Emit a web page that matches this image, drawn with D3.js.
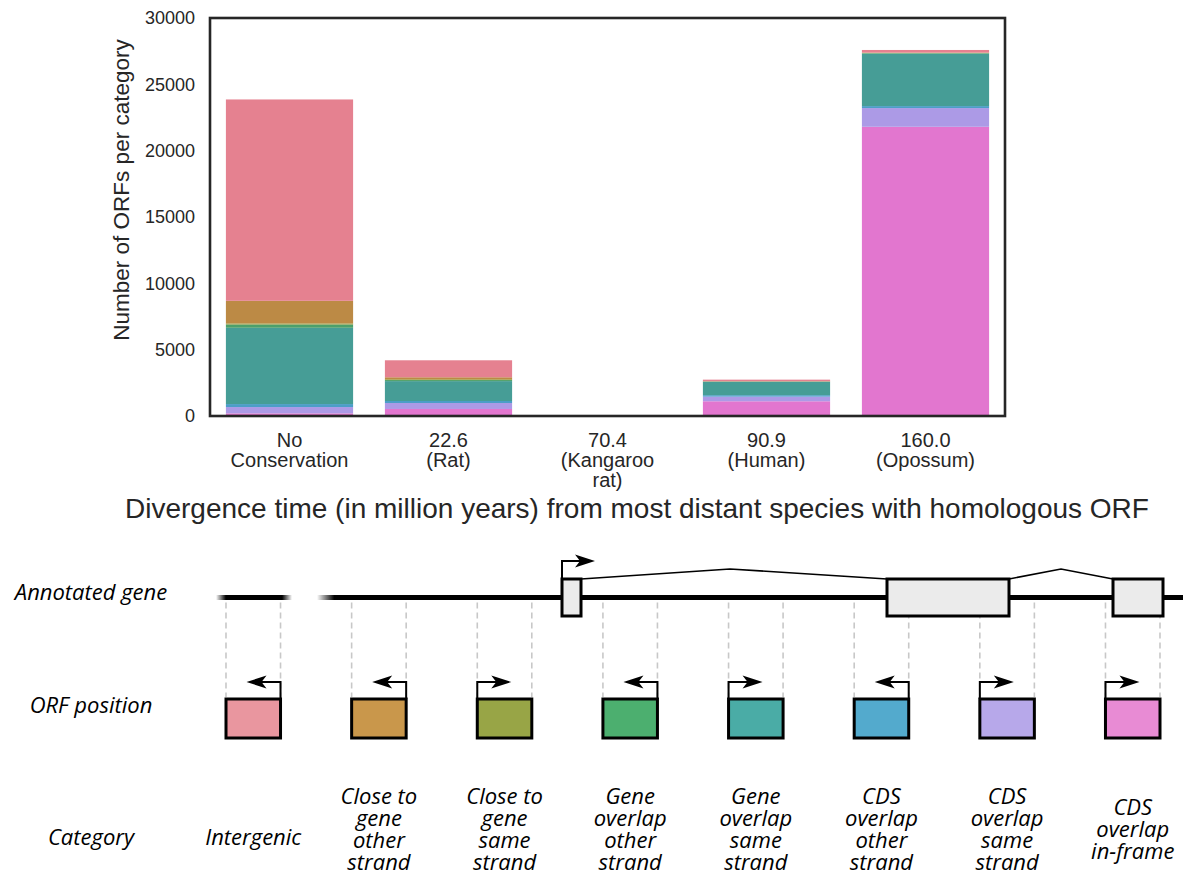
<!DOCTYPE html>
<html>
<head>
<meta charset="utf-8">
<script src="https://cdn.jsdelivr.net/npm/d3@7"></script>
<style>
  body { margin: 0; background: #fff; }
  svg text { font-family: "Liberation Sans", Arial, sans-serif; }
  .diag text { font-family: "Open Sans", sans-serif; font-style: italic; }
</style>
</head>
<body>
<div id="viz"></div>
<script>
// données du graphique -------------------------
const divergence = [["No", "Conservation"], ["22.6", "(Rat)"], ["70.4", "(Kangaroo", "rat)"], ["90.9", "(Human)"], ["160.0", "(Opossum)"]];
const categories = ["Intergenic", "Close to gene other strand", "Close to gene same strand", "Gene overlap other strand",
                    "Gene overlap same strand", "CDS overlap other strand", "CDS overlap same strand", "CDS overlap in-frame"];
const categoryLines = [["Intergenic"], ["Close to", "gene", "other", "strand"], ["Close to", "gene", "same", "strand"],
                       ["Gene", "overlap", "other", "strand"], ["Gene", "overlap", "same", "strand"],
                       ["CDS", "overlap", "other", "strand"], ["CDS", "overlap", "same", "strand"], ["CDS", "overlap", "in-frame"]];
const intergenic = [15180, 1280, 0, 120, 200];
const closeOther = [1700, 150, 0, 10, 20];
const closeSame  = [80, 60, 0, 10, 20];
const geneOther  = [250, 80, 0, 30, 40];
const geneSame   = [5750, 1500, 0, 1000, 3950];
const cdsOther   = [225, 150, 0, 110, 150];
const cdsSame    = [475, 450, 0, 350, 1410];
const inFrame    = [200, 530, 0, 1110, 21800];
const strands    = [-1, -1, 1, -1, 1, -1, 1, 1]; // sens de l'ORF (fleche)
const yTicks = [0, 5000, 10000, 15000, 20000, 25000, 30000];

// couleurs
const barColors  = ["#e58190", "#bc8a45", "#9c9d3f", "#4ca06a", "#469d96", "#4c9ec8", "#ac9ae6", "#e276cf"];
const boxColors  = ["#e9969f", "#c9974b", "#98a546", "#4caf6f", "#4aaca6", "#53aacd", "#b7a8ea", "#e88bd4"];

const W = 1183, H = 873;
const svg = d3.select("#viz").append("svg").attr("width", W).attr("height", H);

// ---------------- barplot empilé ----------------
const plot = {left: 210, right: 1005, top: 18, bottom: 416};
const series = [intergenic, closeOther, closeSame, geneOther, geneSame, cdsOther, cdsSame, inFrame];
const rows = divergence.map((d, i) => {
  const r = {idx: i};
  categories.forEach((c, k) => r[c] = series[k][i]);
  return r;
});
const stack = d3.stack().keys(categories.slice().reverse())(rows);

const x = d3.scaleBand().domain(d3.range(divergence.length))
  .range([plot.left, plot.right]).paddingInner(0.2).paddingOuter(0.1);
const y = d3.scaleLinear().domain([0, 30000]).range([plot.bottom, plot.top]);
const color = d3.scaleOrdinal().domain(categories).range(barColors);

svg.append("g").selectAll("g").data(stack).join("g")
  .attr("fill", d => color(d.key))
  .selectAll("rect").data(d => d).join("rect")
    .attr("x", d => x(d.data.idx))
    .attr("width", x.bandwidth())
    .attr("y", d => y(d[1]))
    .attr("height", d => y(d[0]) - y(d[1]));

// cadre
svg.append("rect")
  .attr("x", plot.left).attr("y", plot.top)
  .attr("width", plot.right - plot.left).attr("height", plot.bottom - plot.top)
  .attr("fill", "none").attr("stroke", "#262626").attr("stroke-width", 2.6);

// axe Y
const yAxis = svg.append("g")
  .attr("transform", `translate(${plot.left},0)`)
  .call(d3.axisLeft(y).tickValues(yTicks).tickSize(0).tickPadding(15).tickFormat(d3.format("d")));
yAxis.select(".domain").remove();
yAxis.selectAll("text").attr("font-size", 18).attr("fill", "#262626")
  .attr("font-family", "Liberation Sans, Arial, sans-serif");

// axe X (labels sur plusieurs lignes)
const xLab = svg.append("g").selectAll("text").data(divergence).join("text")
  .attr("x", (d, i) => x(i) + x.bandwidth() / 2)
  .attr("y", 447)
  .attr("text-anchor", "middle").attr("font-size", 20).attr("fill", "#262626");
xLab.selectAll("tspan").data(d => d).join("tspan")
  .attr("x", function() { return this.parentNode.getAttribute("x"); })
  .attr("dy", (d, i) => i === 0 ? 0 : 20)
  .text(d => d);

svg.append("text")
  .attr("transform", `translate(129,${(plot.top + plot.bottom) / 2 - 27}) rotate(-90)`)
  .attr("text-anchor", "middle").attr("font-size", 22.5).attr("fill", "#262626")
  .text("Number of ORFs per category");

svg.append("text")
  .attr("x", 637).attr("y", 518)
  .attr("text-anchor", "middle").attr("font-size", 28).attr("fill", "#262626")
  .text("Divergence time (in million years) from most distant species with homologous ORF");

// ---------------- schéma des catégories ----------------
const diag = svg.append("g").attr("class", "diag");
const defs = svg.append("defs");
const lineY = 597.5, lineW = 5;
const orfTop = 699, orfH = 39;
const exTop = 579, exH = 37;
const exons = [[562, 581], [887, 1009], [1113, 1163]];

const bx = d3.scaleBand().domain(categories).range([226, 1160]).paddingInner(0.566).paddingOuter(0);

function grad(id, stops) {
  const g = defs.append("linearGradient").attr("id", id);
  stops.forEach(s => g.append("stop").attr("offset", s[0]).attr("stop-color", "#000").attr("stop-opacity", s[1]));
}
grad("fadeBoth", [[0, 0], [0.13, 1], [0.87, 1], [1, 0]]);
grad("fadeLeft", [[0, 0], [0.02, 1], [1, 1]]);

diag.append("rect").attr("x", 216).attr("y", lineY - lineW / 2).attr("width", 76).attr("height", lineW).attr("fill", "url(#fadeBoth)");
diag.append("rect").attr("x", 317).attr("y", lineY - lineW / 2).attr("width", W - 317).attr("height", lineW).attr("fill", "url(#fadeLeft)");

// lignes pointillées
const dashX = categories.flatMap(c => [bx(c), bx(c) + bx.bandwidth()]);
diag.selectAll("line.dash").data(dashX).join("line").attr("class", "dash")
  .attr("x1", d => d).attr("x2", d => d)
  .attr("y1", lineY + 5).attr("y2", orfTop - 2)
  .attr("stroke", "#c8c8c8").attr("stroke-width", 1.6).attr("stroke-dasharray", "6,4");

// introns
const intron = [[exons[0][1], exTop], [730, 569], [exons[1][0], exTop], null, [exons[1][1], exTop], [1061, 569], [exons[2][0], exTop]];
diag.append("path")
  .attr("d", `M${intron[0]}L${intron[1]}L${intron[2]}M${intron[4]}L${intron[5]}L${intron[6]}`)
  .attr("fill", "none").attr("stroke", "#000").attr("stroke-width", 1.6);

diag.selectAll("rect.exon").data(exons).join("rect").attr("class", "exon")
  .attr("x", d => d[0]).attr("y", exTop).attr("width", d => d[1] - d[0]).attr("height", exH)
  .attr("fill", "#ebebeb").attr("stroke", "#000").attr("stroke-width", 3);

// fleche du TSS du gène
function arrow(x0, y0, yTop, x1) {
  const dir = Math.sign(x1 - x0);
  diag.append("path").attr("d", `M${x0},${y0}V${yTop}H${x1 - dir * 14}`)
    .attr("fill", "none").attr("stroke", "#000").attr("stroke-width", 2);
  diag.append("path").attr("d", `M${x1},${yTop}L${x1 - dir * 20},${yTop - 6.5}L${x1 - dir * 15},${yTop}L${x1 - dir * 20},${yTop + 6.5}Z`)
    .attr("fill", "#000");
}
arrow(exons[0][0], exTop, 561, 595);

// boites ORF
diag.selectAll("rect.orf").data(categories).join("rect").attr("class", "orf")
  .attr("x", d => bx(d)).attr("y", orfTop).attr("width", bx.bandwidth()).attr("height", orfH)
  .attr("fill", (d, i) => boxColors[i]).attr("stroke", "#000").attr("stroke-width", 3);

categories.forEach((c, i) => {
  const left = bx(c), right = bx(c) + bx.bandwidth();
  if (strands[i] > 0) arrow(left, orfTop, 682, left + 34);
  else arrow(right, orfTop, 682, right - 34);
});

// textes
const rowLabels = [["Annotated gene", 600], ["ORF position", 713], ["Category", 845]];
diag.selectAll("text.row").data(rowLabels).join("text").attr("class", "row")
  .attr("x", 91).attr("y", d => d[1]).attr("text-anchor", "middle")
  .attr("font-size", 22).attr("fill", "#000").text(d => d[0]);

const catText = diag.selectAll("text.cat").data(categoryLines).join("text").attr("class", "cat")
  .attr("x", (d, i) => bx(categories[i]) + bx.bandwidth() / 2)
  .attr("y", d => d.length === 1 ? 845 : 830 + 6.5 - (d.length - 1) / 2 * 22)
  .attr("text-anchor", "middle").attr("font-size", 22).attr("fill", "#000");
catText.selectAll("tspan").data(d => d).join("tspan")
  .attr("x", function() { return this.parentNode.getAttribute("x"); })
  .attr("dy", (d, i) => i === 0 ? 0 : 22)
  .text(d => d);
</script>
</body>
</html>
